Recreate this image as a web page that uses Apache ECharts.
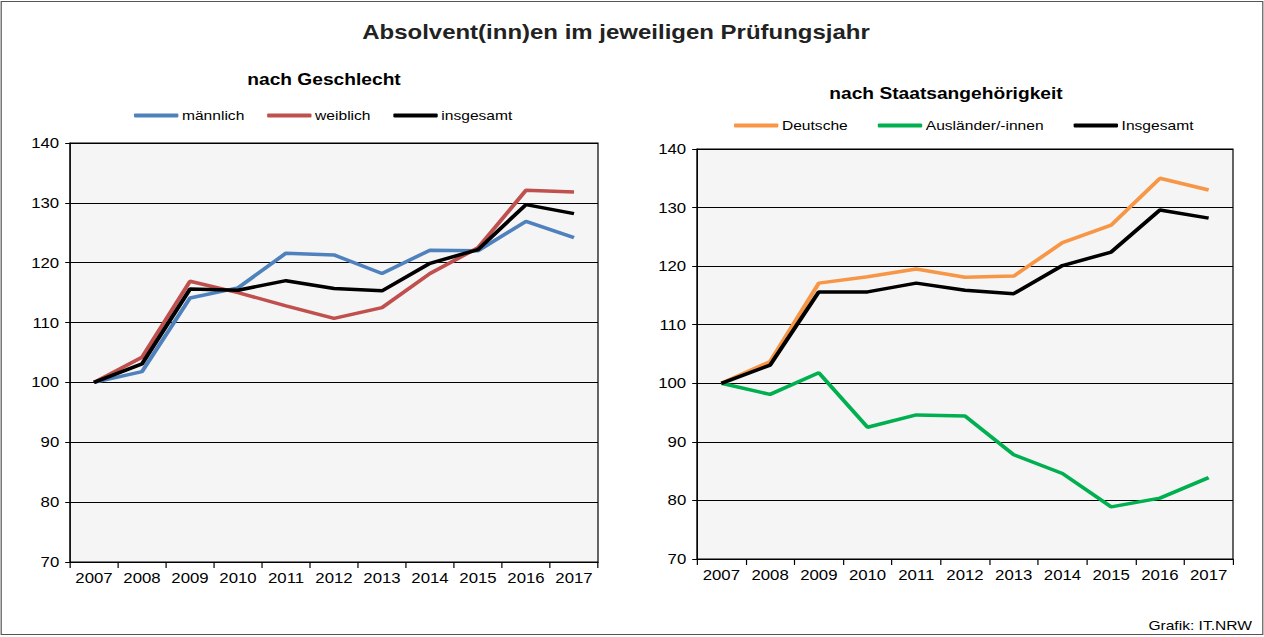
<!DOCTYPE html>
<html>
<head>
<meta charset="utf-8">
<script src="https://cdn.jsdelivr.net/npm/echarts@6/dist/echarts.min.js"></script>
<style>
  html, body { margin: 0; padding: 0; background: #fff; overflow: hidden; }
  #wrap { width: 1264px; height: 637px; overflow: hidden; }
  /* die Vorlage ist horizontal gestreckt (ca. 1,2) */
  #main { width: 1054px; height: 637px; transform: scaleX(1.19924); transform-origin: 0 0; }
</style>
</head>
<body>
<div id="wrap"><div id="main"></div></div>
<script>
// Jahre
var years = ['2007', '2008', '2009', '2010', '2011', '2012', '2013', '2014', '2015', '2016', '2017']

// nach Geschlecht (Index 2007 = 100)
var maennlich = [100, 101.8, 114.1, 115.8, 121.6, 121.3, 118.2, 122.1, 122.0, 126.9, 124.2]
var weiblich = [100, 104.2, 116.9, 115.0, 112.8, 110.7, 112.5, 118.2, 122.5, 132.1, 131.8]
var insgesamtL = [100, 103.1, 115.6, 115.4, 117.0, 115.7, 115.3, 119.9, 122.2, 129.7, 128.2]

// nach Staatsangehoerigkeit
var deutsche = [100, 103.7, 117.1, 118.2, 119.5, 118.1, 118.3, 124.0, 127.0, 135.0, 133.0]
var auslaender = [100, 98.1, 101.8, 92.5, 94.6, 94.4, 87.8, 84.6, 78.9, 80.4, 83.9]
var insgesamtR = [100, 103.1, 115.6, 115.6, 117.1, 115.9, 115.3, 120.1, 122.4, 129.6, 128.2]

var font = 'Liberation Sans, Arial, sans-serif'
var W = 1054
var S = 1264 / W
// x-Position aus der Vorlage in ungestreckte Koordinaten umrechnen
function sx (x) { return x / S }

function xAx (gi) {
  return {
    type: 'category',
    gridIndex: gi,
    data: years,
    boundaryGap: true,
    axisLine: { lineStyle: { color: '#000', width: 1 } },
    axisTick: { show: true, interval: 0, length: 6, lineStyle: { color: '#000' } },
    axisLabel: { interval: 0, color: '#000', fontSize: 14, fontFamily: font, margin: 9 },
    splitLine: { show: false }
  }
}

function yAx (gi) {
  return {
    type: 'value',
    gridIndex: gi,
    min: 70,
    max: 140,
    interval: 10,
    axisLine: { show: true, lineStyle: { color: '#000', width: 1 } },
    axisTick: { show: true, length: 4, lineStyle: { color: '#000' } },
    axisLabel: { color: '#000', fontSize: 14, fontFamily: font, margin: 9 },
    splitLine: { show: true, lineStyle: { color: '#000', width: 1 } }
  }
}

function line (name, data, color, gi, z) {
  return {
    name: name,
    type: 'line',
    xAxisIndex: gi,
    yAxisIndex: gi,
    data: data,
    symbol: 'none',
    z: z || 2,
    lineStyle: { color: color, width: 3.5 },
    itemStyle: { color: color },
    animation: false
  }
}

var myChart = echarts.init(document.getElementById('main'), null, { renderer: 'svg' })
myChart.setOption({
  backgroundColor: '#fff',
  animation: false,
  title: [
    {
      text: 'Absolvent(inn)en im jeweiligen Prüfungsjahr',
      left: sx(610), top: 17, textAlign: 'center',
      textStyle: { fontSize: 20, fontWeight: 'bold', color: '#222', fontFamily: font }
    },
    {
      text: 'nach Geschlecht',
      left: sx(318), top: 67, textAlign: 'center',
      textStyle: { fontSize: 16, fontWeight: 'bold', color: '#000', fontFamily: font }
    },
    {
      text: 'nach Staatsangehörigkeit',
      left: sx(940), top: 81, textAlign: 'center',
      textStyle: { fontSize: 16, fontWeight: 'bold', color: '#000', fontFamily: font }
    },
    {
      text: 'Grafik: IT.NRW',
      left: sx(1246), top: 614, textAlign: 'right',
      textStyle: { fontSize: 13, fontWeight: 'normal', color: '#000', fontFamily: font }
    }
  ],
  legend: [
    {
      data: ['männlich', 'weiblich', 'insgesamt'],
      left: sx(128), top: 104,
      icon: 'roundRect',
      itemWidth: 37, itemHeight: 4, itemGap: 19,
      textStyle: { fontSize: 13, color: '#000', fontFamily: font, padding: [0, 0, 0, -2] }
    },
    {
      data: ['Deutsche', 'Ausländer/-innen', 'Insgesamt'],
      left: sx(728), top: 114,
      icon: 'roundRect',
      itemWidth: 37, itemHeight: 4, itemGap: 25,
      textStyle: { fontSize: 13, color: '#000', fontFamily: font, padding: [0, 0, 0, -2] }
    }
  ],
  grid: [
    { left: sx(70), right: W - sx(598), top: 143, bottom: 75, show: true, backgroundColor: '#f5f5f5', borderColor: '#000', borderWidth: 1 },
    { left: sx(697), right: W - sx(1233), top: 149, bottom: 78, show: true, backgroundColor: '#f5f5f5', borderColor: '#000', borderWidth: 1 }
  ],
  xAxis: [xAx(0), xAx(1)],
  yAxis: [yAx(0), yAx(1)],
  series: [
    line('männlich', maennlich, '#4f81bd', 0, 2),
    line('weiblich', weiblich, '#c0504d', 0, 3),
    line('insgesamt', insgesamtL, '#000000', 0, 4),
    line('Deutsche', deutsche, '#f79646', 1, 2),
    line('Ausländer/-innen', auslaender, '#00b050', 1, 3),
    line('Insgesamt', insgesamtR, '#000000', 1, 4)
  ],
  graphic: [
    {
      type: 'rect',
      shape: { x: 1, y: 1.5, width: W - 2, height: 633 },
      style: { fill: 'none', stroke: '#555', lineWidth: 1 },
      silent: true
    }
  ]
})

window.onresize = function () {
  myChart.resize()
}
</script>
</body>
</html>
